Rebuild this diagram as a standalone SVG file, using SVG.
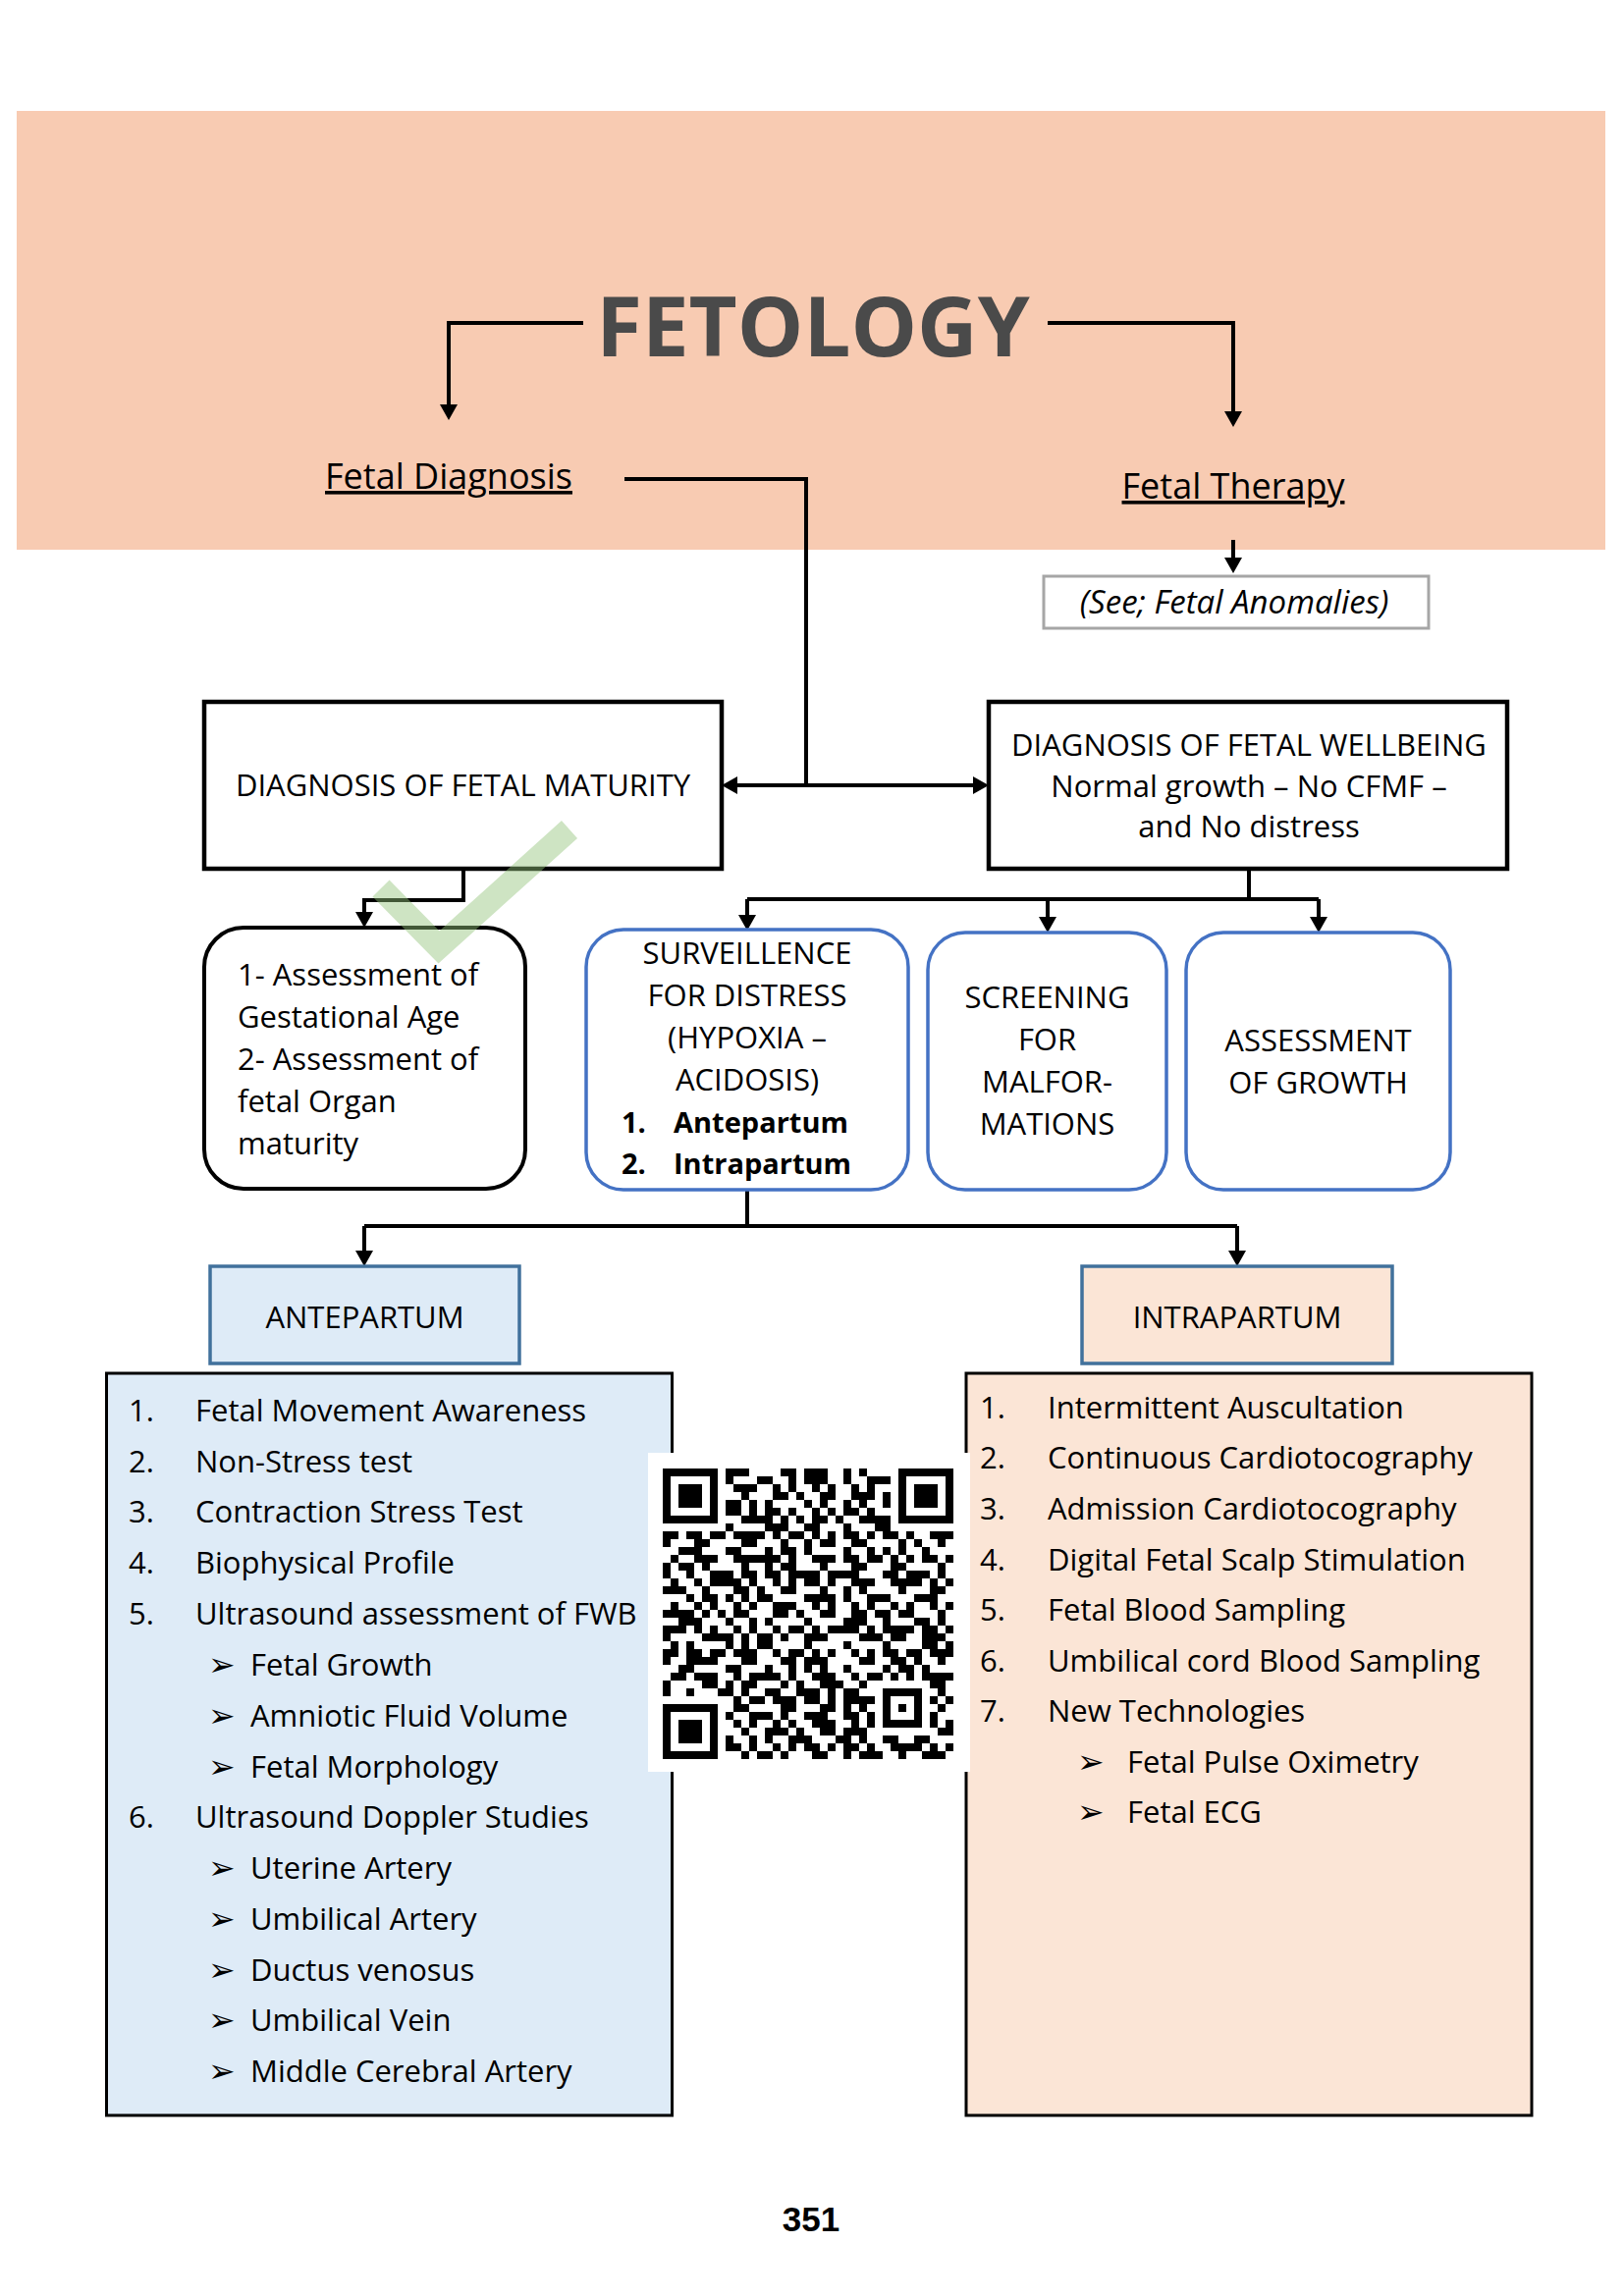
<svg xmlns="http://www.w3.org/2000/svg" width="1654" height="2339" viewBox="0 0 1654 2339">
<style>
.t{font-family:"Open Sans","Liberation Sans",sans-serif;font-size:31px;fill:#000}
.m{text-anchor:middle}
.b{font-weight:bold}
.box{fill:#fff;stroke:#000;stroke-width:4.5}
.rb{fill:#fff;stroke:#4472c4;stroke-width:3.5}
.hd{stroke:#41719c;stroke-width:3.5}
.lst{stroke:#000;stroke-width:3}
.con{fill:none;stroke:#000;stroke-width:4}
.arr{marker-end:url(#ah)}
.bul{font-family:"DejaVu Sans",sans-serif;font-size:33px}
</style>
<defs>
<marker id="ah" viewBox="0 0 16 18" refX="8" refY="9" markerWidth="16" markerHeight="18" markerUnits="userSpaceOnUse" orient="auto-start-reverse">
<path d="M0,0 L16,9 L0,18 z" fill="#000"/>
</marker>
<pattern id="qa" x="675" y="1496" width="40" height="24" patternUnits="userSpaceOnUse">
<rect x="0" y="0" width="8" height="8"/><rect x="24" y="8" width="8" height="8"/><rect x="8" y="16" width="8" height="8"/><rect x="32" y="16" width="8" height="8"/>
</pattern>
<pattern id="qb" x="675" y="1496" width="56" height="40" patternUnits="userSpaceOnUse">
<rect x="16" y="0" width="8" height="8"/><rect x="40" y="8" width="16" height="8"/><rect x="0" y="24" width="8" height="8"/><rect x="24" y="24" width="8" height="8"/><rect x="32" y="32" width="8" height="8"/>
</pattern>
<pattern id="qc" x="675" y="1496" width="88" height="56" patternUnits="userSpaceOnUse">
<rect x="8" y="8" width="8" height="8"/><rect x="56" y="0" width="16" height="8"/><rect x="32" y="24" width="8" height="8"/><rect x="72" y="32" width="8" height="8"/><rect x="16" y="40" width="8" height="8"/><rect x="48" y="48" width="8" height="8"/><rect x="80" y="16" width="8" height="8"/><rect x="0" y="48" width="8" height="8"/>
</pattern>
<pattern id="qd" x="675" y="1496" width="104" height="88" patternUnits="userSpaceOnUse">
<rect x="24" y="8" width="8" height="16"/><rect x="64" y="40" width="8" height="8"/><rect x="88" y="72" width="8" height="8"/><rect x="8" y="56" width="16" height="8"/><rect x="48" y="16" width="8" height="8"/><rect x="80" y="0" width="8" height="8"/>
</pattern>
</defs>

<rect width="1654" height="2339" fill="#fff"/>
<rect id="band" x="17" y="113" width="1618" height="447" fill="#f8cbb2"/>

<g id="connectors">
<path class="con arr" d="M594,329 H457 V420"/>
<path class="con arr" d="M1067,329 H1256 V427"/>
<path class="con" d="M636,488 H821 V800"/>
<path class="con" d="M743,800 H999" marker-start="url(#ah)" marker-end="url(#ah)"/>
<path class="con arr" d="M1256,550 V576"/>
<path class="con arr" d="M472,886 V917 H371 V937"/>
<path class="con" d="M1272,886 V916"/>
<path class="con" d="M761,916 H1343"/>
<path class="con arr" d="M761,916 V940"/>
<path class="con arr" d="M1067,916 V942"/>
<path class="con arr" d="M1343,916 V942"/>
<path class="con" d="M761,1212 V1249"/>
<path class="con" d="M371,1249 H1260"/>
<path class="con arr" d="M371,1249 V1282"/>
<path class="con arr" d="M1260,1249 V1282"/>
</g>

<g id="title">
<text x="828" y="363" class="m b" font-family="'Open Sans','Liberation Sans',sans-serif" font-size="85" fill="#4a4a4a">FETOLOGY</text>
</g>

<g id="fetal-diagnosis">
<text x="457" y="498" class="t m" style="font-size:36px;text-decoration:underline">Fetal Diagnosis</text>
</g>

<g id="fetal-therapy">
<text x="1256" y="508" class="t m" style="font-size:36px;text-decoration:underline">Fetal Therapy</text>
</g>

<g id="see-anomalies">
<rect x="1063" y="587" width="392" height="53" fill="#fff" stroke="#a6a6a6" stroke-width="3"/>
<text x="1257" y="625" class="t m" style="font-style:italic;font-size:33px"><tspan style="text-decoration:underline">(</tspan>See; Fetal Anomalies)</text>
</g>

<g id="fetal-maturity">
<rect class="box" x="208" y="715" width="527" height="170"/>
<text x="471.5" y="811" class="t m">DIAGNOSIS OF FETAL MATURITY</text>
</g>

<g id="fetal-wellbeing">
<rect class="box" x="1007" y="715" width="528" height="170"/>
<text x="1272" y="770" class="t m">DIAGNOSIS OF FETAL WELLBEING</text>
<text x="1272" y="812" class="t m">Normal growth – No CFMF –</text>
<text x="1272" y="853" class="t m">and No distress</text>
</g>

<g id="maturity-assessment">
<rect x="208" y="945" width="327" height="266" rx="40" fill="#fff" stroke="#000" stroke-width="4"/>
<text x="242" y="1004" class="t">1- Assessment of</text>
<text x="242" y="1047" class="t">Gestational Age</text>
<text x="242" y="1090" class="t">2- Assessment of</text>
<text x="242" y="1133" class="t">fetal Organ</text>
<text x="242" y="1176" class="t">maturity</text>
</g>

<g id="surveillance">
<rect class="rb" x="597" y="947" width="328" height="265" rx="38"/>
<text x="761" y="982" class="t m">SURVEILLENCE</text>
<text x="761" y="1025" class="t m">FOR DISTRESS</text>
<text x="761" y="1068" class="t m">(HYPOXIA –</text>
<text x="761" y="1111" class="t m">ACIDOSIS)</text>
<text x="633" y="1154" class="t b" style="font-size:29px">1.</text>
<text x="686" y="1154" class="t b" style="font-size:29px">Antepartum</text>
<text x="633" y="1196" class="t b" style="font-size:29px">2.</text>
<text x="686" y="1196" class="t b" style="font-size:29px">Intrapartum</text>
</g>

<g id="screening">
<rect class="rb" x="945" y="950" width="243" height="262" rx="38"/>
<text x="1066.5" y="1027" class="t m">SCREENING</text>
<text x="1066.5" y="1070" class="t m">FOR</text>
<text x="1066.5" y="1113" class="t m">MALFOR-</text>
<text x="1066.5" y="1156" class="t m">MATIONS</text>
</g>

<g id="growth">
<rect class="rb" x="1208" y="950" width="269" height="262" rx="38"/>
<text x="1342.5" y="1071" class="t m">ASSESSMENT</text>
<text x="1342.5" y="1114" class="t m">OF GROWTH</text>
</g>

<g id="checkmark">
<polyline points="388,905 447,965 580,845" fill="none" stroke="#92c47a" stroke-width="24" stroke-opacity="0.45" stroke-linejoin="miter"/>
</g>

<g id="antepartum">
<rect class="hd" x="214" y="1290" width="315" height="99" fill="#deebf7"/>
<text x="371.5" y="1353" class="t m">ANTEPARTUM</text>
</g>

<g id="intrapartum">
<rect class="hd" x="1102" y="1290" width="316" height="99" fill="#fbe5d6"/>
<text x="1260" y="1353" class="t m">INTRAPARTUM</text>
</g>

<g id="antepartum-list">
<rect class="lst" x="108.5" y="1399" width="576" height="756" fill="#deebf7"/>
<text class="t" x="131" y="1448">1.</text><text class="t" x="199" y="1448">Fetal Movement Awareness</text>
<text class="t" x="131" y="1500">2.</text><text class="t" x="199" y="1500">Non-Stress test</text>
<text class="t" x="131" y="1551">3.</text><text class="t" x="199" y="1551">Contraction Stress Test</text>
<text class="t" x="131" y="1603">4.</text><text class="t" x="199" y="1603">Biophysical Profile</text>
<text class="t" x="131" y="1655">5.</text><text class="t" x="199" y="1655">Ultrasound assessment of FWB</text>
<text class="bul" x="212" y="1707">➢</text><text class="t" x="255" y="1707">Fetal Growth</text>
<text class="bul" x="212" y="1759">➢</text><text class="t" x="255" y="1759">Amniotic Fluid Volume</text>
<text class="bul" x="212" y="1811">➢</text><text class="t" x="255" y="1811">Fetal Morphology</text>
<text class="t" x="131" y="1862">6.</text><text class="t" x="199" y="1862">Ultrasound Doppler Studies</text>
<text class="bul" x="212" y="1914">➢</text><text class="t" x="255" y="1914">Uterine Artery</text>
<text class="bul" x="212" y="1966">➢</text><text class="t" x="255" y="1966">Umbilical Artery</text>
<text class="bul" x="212" y="2018">➢</text><text class="t" x="255" y="2018">Ductus venosus</text>
<text class="bul" x="212" y="2069">➢</text><text class="t" x="255" y="2069">Umbilical Vein</text>
<text class="bul" x="212" y="2121">➢</text><text class="t" x="255" y="2121">Middle Cerebral Artery</text>
</g>

<g id="intrapartum-list">
<rect class="lst" x="984" y="1399" width="576" height="756" fill="#fbe5d6"/>
<text class="t" x="998" y="1445">1.</text><text class="t" x="1067" y="1445">Intermittent Auscultation</text>
<text class="t" x="998" y="1496">2.</text><text class="t" x="1067" y="1496">Continuous Cardiotocography</text>
<text class="t" x="998" y="1548">3.</text><text class="t" x="1067" y="1548">Admission Cardiotocography</text>
<text class="t" x="998" y="1600">4.</text><text class="t" x="1067" y="1600">Digital Fetal Scalp Stimulation</text>
<text class="t" x="998" y="1651">5.</text><text class="t" x="1067" y="1651">Fetal Blood Sampling</text>
<text class="t" x="998" y="1703">6.</text><text class="t" x="1067" y="1703">Umbilical cord Blood Sampling</text>
<text class="t" x="998" y="1754">7.</text><text class="t" x="1067" y="1754">New Technologies</text>
<text class="bul" x="1097" y="1806">➢</text><text class="t" x="1148" y="1806">Fetal Pulse Oximetry</text>
<text class="bul" x="1097" y="1857">➢</text><text class="t" x="1148" y="1857">Fetal ECG</text>
</g>

<g id="qr-code">
<rect x="660" y="1480" width="328" height="325" fill="#fff"/>
<rect x="675" y="1496" width="296" height="296" fill="url(#qa)"/>
<rect x="675" y="1496" width="296" height="296" fill="url(#qb)"/>
<rect x="675" y="1496" width="296" height="296" fill="url(#qc)"/>
<rect x="675" y="1496" width="296" height="296" fill="url(#qd)"/>
<rect x="675" y="1496" width="64" height="64" fill="#fff"/>
<rect x="907" y="1496" width="64" height="64" fill="#fff"/>
<rect x="675" y="1728" width="64" height="64" fill="#fff"/>
<rect x="891" y="1712" width="56" height="56" fill="#fff"/>
<rect x="679" y="1500" width="48" height="48" fill="none" stroke="#000" stroke-width="8"/>
<rect x="691" y="1512" width="24" height="24"/>
<rect x="919" y="1500" width="48" height="48" fill="none" stroke="#000" stroke-width="8"/>
<rect x="931" y="1512" width="24" height="24"/>
<rect x="679" y="1740" width="48" height="48" fill="none" stroke="#000" stroke-width="8"/>
<rect x="691" y="1752" width="24" height="24"/>
<rect x="903" y="1724" width="32" height="32" fill="none" stroke="#000" stroke-width="8"/>
<rect x="915" y="1736" width="8" height="8"/>
</g>

<g id="page-number">
<text x="826" y="2273" text-anchor="middle" font-family="'Liberation Sans',Arial,sans-serif" font-weight="bold" font-size="35">351</text>
</g>
</svg>
